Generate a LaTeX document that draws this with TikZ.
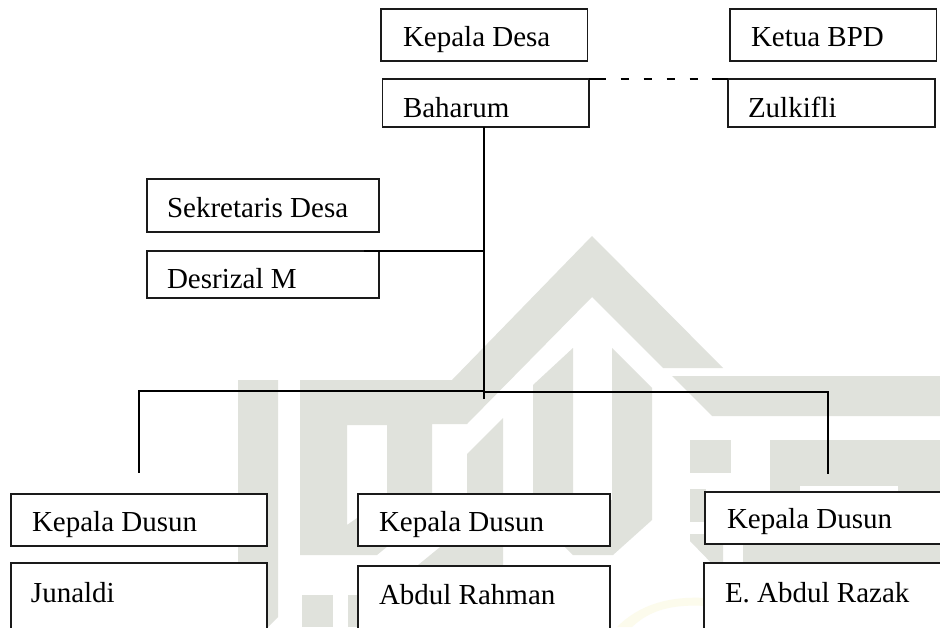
\documentclass[tikz,border=0pt]{standalone}
\usepackage{fontspec}
\setmainfont{Liberation Serif}
\definecolor{wm}{HTML}{E0E2DC}
\definecolor{wy}{HTML}{FCFBEC}
\definecolor{ink}{HTML}{1A1A1A}
\tikzset{
  orgbox/.style={draw=ink,line width=1.1pt,fill=white,inner sep=0pt,outer sep=0pt,anchor=north west,text=black},
  link/.style={draw=black,line width=2pt},
  wmark/.style={fill=wm,draw=none}
}
\newcommand{\orgbox}[8]{%
  \node[orgbox] (#1) at (#2,#3) {\hbox to #4pt{\hskip #6pt\raisebox{#7pt}[#5pt][0pt]{\fontsize{29}{32}\selectfont #8}\hss}};}
\begin{document}
\begin{tikzpicture}[x=1pt,y=-1pt]
\useasboundingbox (0,0) rectangle (940,627);
\fill[white] (0,0) rectangle (940,627);
% watermark
\fill[wmark] (238,380) -- (278,380) -- (278,617) -- (268,627) -- (238,627) -- cycle;
\fill[wmark,even odd rule] (300,380) -- (452,380) -- (592,236) -- (723,368) -- (663,368) -- (592,297) -- (467,424) -- (432,424) -- (432,510) -- (377,555) -- (300,555) -- cycle
  (347,425) -- (387,425) -- (387,497) -- (347,525) -- cycle;
\fill[wmark] (467,454) -- (503,418) -- (503,600) -- (390,588) -- (467,525) -- cycle;
\fill[wmark] (302,595) rectangle (333,627);
\fill[wmark] (348,595) rectangle (360,627);
\fill[wmark] (533,385) -- (573,348) -- (573,500) -- (612,500) -- (612,348) -- (652,388) -- (652,520) -- (613,555) -- (573,555) -- (533,515) -- cycle;
\fill[wmark] (672,376) -- (940,376) -- (940,416) -- (712,416) -- cycle;
\fill[wmark] (690,440) rectangle (731,473);
\fill[wmark] (690,489) rectangle (706,522);
\fill[wmark] (690,534) -- (723,534) -- (723,575) -- (690,541) -- cycle;
\fill[wmark] (770,440) -- (940,440) -- (940,565) -- (743,565) -- (743,530) -- (770,530) -- cycle;
\fill[white] (800,486) rectangle (898,495);
\fill[wy] (617,627) .. controls (640,604) and (670,596) .. (706,598) -- (706,606) .. controls (672,604) and (650,610) .. (632,627) -- cycle;
% boxes
\orgbox{kdesa}{381}{9}{206.5}{52}{22}{15}{Kepala Desa}
\orgbox{baharum}{382.5}{79}{206.5}{48}{20.5}{10}{Baharum}
\orgbox{kbpd}{730}{9}{206.5}{52}{21}{15}{Ketua BPD}
\orgbox{zulkifli}{728}{79}{207}{48}{20}{10}{Zulkifli}
\orgbox{sekdes}{147}{179}{232}{53}{20}{15}{Sekretaris Desa}
\orgbox{desrizal}{147}{251}{232}{47}{20}{10}{Desrizal M}
\orgbox{kd1}{11}{494}{256}{52}{21}{15}{Kepala Dusun}
\orgbox{junaldi}{11}{563}{256}{80}{20}{41}{Junaldi}
\orgbox{kd2}{358}{494}{252}{52}{21}{15}{Kepala Dusun}
\orgbox{arahman}{358}{566}{252}{80}{21}{42}{Abdul Rahman}
\orgbox{kd3}{705}{492}{250}{52}{22}{16}{Kepala Dusun}
\orgbox{erazak}{704}{563}{250}{80}{21}{41}{E. Abdul Razak}
% connector junctions
\coordinate (jsek) at (484,251);
\coordinate (jsekend) at (364,251);
\coordinate (jbus) at (484,391);
\coordinate (jtail) at (484,399);
\coordinate (busl) at (139,391);
\coordinate (busr) at (828,392);
\coordinate (dropl) at (139,473);
\coordinate (dropr) at (828,474);
% connectors
\draw[link] (baharum.south -| jsek) -- (jtail);
\draw[link] (jsekend) -- (jsek);
\draw[link] (jbus |- busl) -- (busl) -- (dropl);
\draw[link] (jbus |- busr) -- (busr) -- (dropr);
\draw[draw=black,line width=1.6pt,dash pattern=on 17pt off 14.5pt on 8.5pt off 14.5pt on 8.5pt off 14.5pt on 8.5pt off 14.5pt on 8.5pt off 13.5pt on 16pt off 5pt] (baharum.north east) -- (zulkifli.north west);
\end{tikzpicture}
\end{document}
